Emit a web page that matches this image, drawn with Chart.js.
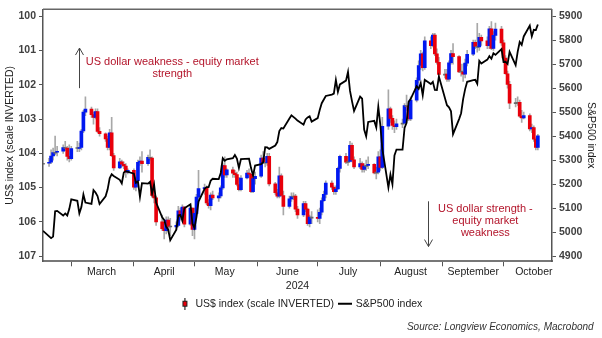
<!DOCTYPE html>
<html>
<head>
<meta charset="utf-8">
<script src="https://cdn.jsdelivr.net/npm/chart.js@4.4.1/dist/chart.umd.min.js"></script>
<style>
  html, body { margin: 0; padding: 0; background: #fff; }
  #wrap { width: 602px; height: 338px; }
</style>
</head>
<body>
<div id="wrap"><canvas id="myChart"></canvas></div>
<script>
// ---- data (one value per weekday, 16 Feb 2024 -> 18 Oct 2024) ----
const dxyOpen = [
  104.30,104.29,104.26,104.08,103.98,103.97,103.94,103.83,103.85,104.09,
  104.16,103.86,103.86,103.83,103.35,102.80,102.71,102.87,102.95,102.78,103.36,103.43,103.58,103.83,103.40,104.07,104.43,104.25,104.32,104.37,104.55,
  104.50,104.99,104.80,104.26,104.23,104.30,104.12,104.14,105.23,105.30,106.00,106.20,106.26,105.95,106.15,106.15,106.10,105.68,105.85,105.57,106.07,105.60,
  106.22,105.75,105.28,105.03,105.00,105.45,105.53,105.22,105.30,105.24,105.01,104.36,104.63,104.48,104.58,104.62,104.91,105.06,104.72,104.58,104.61,105.12,104.74,
  104.67,104.14,104.26,104.27,104.09,104.89,105.15,105.25,104.66,105.23,105.55,105.33,105.26,105.25,105.63,105.80,105.47,105.63,106.05,105.86,
  105.87,105.90,105.72,105.38,105.20,104.87,104.99,105.12,105.04,104.44,104.09,104.26,104.24,103.77,104.19,104.40,104.30,104.47,104.37,104.35,104.32,104.57,104.55,
  104.10,104.41,103.21,102.70,102.98,103.19,103.22,103.14,103.12,102.61,102.63,103.00,102.45,101.87,101.44,101.10,101.50,100.72,100.86,100.55,101.10,101.35,
  101.70,101.69,101.84,101.36,101.09,101.18,101.63,101.63,101.69,101.37,101.11,100.76,100.88,100.90,100.62,100.72,100.86,100.37,100.94,100.56,100.38,
  100.78,101.22,101.68,101.99,102.54,102.52,102.51,102.92,102.97,102.90,103.29,103.25,103.59,103.83
];
const dxyClose = [
  104.29,104.26,104.08,103.98,103.97,103.94,103.83,103.85,104.09,104.16,
  103.86,103.86,103.83,103.35,102.80,102.71,102.87,102.95,102.78,103.36,103.43,103.58,103.83,103.40,104.07,104.43,104.25,104.32,104.37,104.55,104.50,
  104.99,104.80,104.26,104.23,104.30,104.12,104.14,105.23,105.30,106.00,106.20,106.26,105.95,106.15,106.15,106.10,105.68,105.85,105.57,106.07,105.60,106.22,
  105.75,105.28,105.03,105.00,105.45,105.53,105.22,105.30,105.24,105.01,104.36,104.63,104.48,104.58,104.62,104.91,105.06,104.72,104.58,104.61,105.12,104.74,104.67,
  104.14,104.26,104.27,104.09,104.89,105.15,105.25,104.66,105.23,105.55,105.33,105.26,105.25,105.63,105.80,105.47,105.63,106.05,105.86,105.87,
  105.90,105.72,105.38,105.20,104.87,104.99,105.12,105.04,104.44,104.09,104.26,104.24,103.77,104.19,104.40,104.30,104.47,104.37,104.35,104.32,104.57,104.55,104.10,
  104.41,103.21,102.70,102.98,103.19,103.22,103.14,103.12,102.61,102.63,103.00,102.45,101.87,101.44,101.10,101.50,100.72,100.86,100.55,101.10,101.35,101.70,
  101.69,101.84,101.36,101.09,101.18,101.63,101.63,101.69,101.37,101.11,100.76,100.88,100.90,100.62,100.72,100.86,100.37,100.94,100.56,100.38,100.78,
  101.22,101.68,101.99,102.54,102.52,102.51,102.92,102.97,102.90,103.29,103.25,103.59,103.83,103.49
];
const dxyLow = [
  104.05,104.15,103.90,103.85,103.50,103.80,103.75,103.65,103.80,103.75,
  103.80,103.65,103.70,103.30,102.75,102.35,102.65,102.80,102.70,102.70,103.25,103.40,103.50,103.30,102.95,104.00,104.15,104.20,104.25,104.30,104.45,
  104.45,104.70,104.20,104.10,103.95,104.05,103.90,104.10,105.10,105.25,105.80,106.05,105.85,105.85,105.90,106.00,105.55,105.60,105.50,105.55,105.50,105.60,
  105.60,105.20,104.50,104.90,104.95,105.35,105.15,105.10,105.15,104.95,104.30,104.10,104.45,104.40,104.50,104.55,104.70,104.65,104.50,104.45,104.60,104.65,104.55,
  104.05,103.95,104.10,104.00,104.00,104.85,105.05,104.40,104.60,105.10,105.25,105.15,105.15,105.20,105.55,105.40,105.40,105.60,105.80,105.70,
  105.65,105.60,105.30,105.10,104.80,104.80,104.95,104.95,104.40,104.05,104.00,104.10,103.65,103.70,104.10,104.15,104.25,104.30,104.20,104.10,104.30,104.40,103.95,
  103.90,102.95,102.15,102.65,102.90,103.05,103.00,103.00,102.55,102.30,102.55,102.35,101.80,101.30,101.00,101.05,100.60,100.60,100.50,100.50,100.95,101.20,
  101.55,101.55,101.30,101.00,100.80,101.15,101.40,101.40,101.25,101.00,100.70,100.70,100.21,100.50,100.55,100.60,100.30,100.16,100.45,100.20,100.30,
  100.70,101.15,101.60,101.90,102.40,102.35,102.45,102.75,102.80,102.85,103.15,103.20,103.55,103.45
];
const dxyHigh = [
  104.55,104.38,104.30,104.20,104.05,104.08,104.00,103.92,104.20,104.25,
  104.20,103.95,103.95,103.90,103.40,102.90,102.95,103.15,103.00,103.40,103.50,103.65,103.90,103.90,104.10,104.50,104.45,104.40,104.45,104.70,104.60,
  105.05,105.10,104.85,104.35,104.55,104.35,104.20,105.25,105.45,106.10,106.25,106.50,106.35,106.30,106.40,106.25,106.15,105.95,106.00,106.15,106.10,106.40,
  106.50,105.80,105.35,105.20,105.50,105.60,105.65,105.35,105.40,105.30,105.05,104.70,104.70,104.70,104.70,104.95,105.10,105.10,104.75,104.70,105.15,105.15,104.90,
  104.70,104.30,104.40,104.35,104.95,105.20,105.30,105.30,105.25,105.80,105.60,105.40,105.35,105.70,105.90,105.85,105.70,106.10,106.15,106.05,
  106.00,106.05,105.80,105.40,105.30,105.05,105.20,105.20,105.05,104.55,104.30,104.35,104.25,104.25,104.45,104.45,104.55,104.55,104.50,104.45,104.60,104.75,104.60,
  104.50,104.45,103.30,103.10,103.30,103.40,103.30,103.25,103.15,102.75,103.05,103.05,102.50,101.95,101.55,101.60,101.55,100.95,100.90,101.15,101.40,101.80,
  101.80,101.90,101.90,101.40,101.40,101.65,101.75,101.90,101.80,101.45,101.15,100.95,101.05,101.00,100.85,100.95,100.95,100.98,101.00,100.70,100.85,
  101.25,101.70,102.10,102.70,102.65,102.60,102.95,103.10,103.00,103.35,103.40,103.65,103.90,103.90
];
// S&P 500 close (null = US market holiday)
const spx = [
  5005.57,null,4975.51,4981.80,5087.03,5088.80,5069.53,5078.18,5069.76,5096.27,
  5137.08,5130.95,5078.65,5104.76,5157.36,5123.69,5117.94,5175.27,5165.31,5150.48,5117.09,5149.42,5178.51,5224.62,5241.53,5234.18,5218.19,5203.58,5248.49,5254.35,null,
  5243.77,5205.81,5211.49,5147.21,5204.34,5202.39,5209.91,5160.64,5199.06,5123.41,5061.82,5051.41,5022.21,5011.12,4967.23,5010.60,5070.55,5071.63,5048.42,5099.96,5116.17,5035.69,
  5018.39,5064.20,5127.79,5180.74,5187.70,5187.67,5214.08,5222.68,5221.42,5246.68,5308.15,5297.10,5303.27,5308.13,5321.41,5307.01,5267.84,5304.72,null,5306.04,5266.95,5235.48,5277.51,
  5283.40,5291.34,5354.03,5352.96,5346.99,5360.79,5375.32,5421.03,5433.74,5431.60,5473.23,5487.03,null,5473.17,5464.62,5447.87,5469.30,5477.90,5482.87,5460.48,
  5475.09,5509.01,5537.02,null,5567.19,5572.85,5576.98,5633.91,5584.54,5615.35,5631.22,5667.20,5588.27,5544.59,5505.00,5564.41,5555.74,5427.13,5399.22,5459.10,5463.54,5436.44,5522.30,
  5446.68,5346.56,5186.33,5240.03,5199.50,5319.31,5344.16,5344.39,5434.43,5455.21,5543.22,5554.25,5608.25,5597.12,5620.85,5570.64,5634.61,5616.84,5625.80,5592.18,5591.96,5648.40,
  null,5528.93,5520.07,5503.41,5408.42,5471.05,5495.52,5554.13,5595.76,5626.02,5633.09,5634.58,5618.26,5713.64,5702.55,5718.57,5732.93,5722.26,5745.37,5738.17,5762.48,
  5708.75,5709.54,5699.94,5751.07,5695.94,5751.13,5792.04,5780.05,5815.03,5859.85,5815.26,5842.47,5841.47,5864.67
];

const monthNames = ["March", "April", "May", "June", "July", "August", "September", "October"];
const dxyTicks = [100, 101, 102, 103, 104, 105, 106, 107];
const spxTicks = [4900, 5000, 5100, 5200, 5300, 5400, 5500, 5600, 5700, 5800, 5900];

// day-of-year helper, 1 Jan 2024 = 1
function doy(m, d) {
  return (Date.UTC(2024, m, d) - Date.UTC(2024, 0, 1)) / 864e5 + 1;
}

// weekdays from 16 Feb to 18 Oct
const days = [];
for (let t = Date.UTC(2024, 1, 16); t <= Date.UTC(2024, 9, 18); t += 864e5) {
  const wd = new Date(t).getUTCDay();
  if (wd !== 0 && wd !== 6) days.push((t - Date.UTC(2024, 0, 1)) / 864e5 + 1);
}

const monthStarts = monthNames.map((n, i) => doy(i + 2, 1));
const monthMids = monthNames.map((n, i) => doy(i + 2, 16));

const RED = "#e8000b";
const BLUE = "#0018f0";

const bodyColors = dxyOpen.map((o, i) => {
  const c = dxyClose[i];
  if (Math.abs(c - o) < 0.025) return "#6a6a6a";
  return c > o ? RED : BLUE;
});

// legend icons
function candleIcon() {
  const c = document.createElement("canvas");
  c.width = 7; c.height = 12;
  const g = c.getContext("2d");
  g.fillStyle = "#000";
  g.fillRect(3, 0, 1, 12);
  g.fillStyle = RED;
  g.fillRect(1, 3, 5, 6);
  g.strokeStyle = "#222";
  g.lineWidth = 1;
  g.strokeRect(1.5, 3.5, 4, 5);
  return c;
}
function lineIcon() {
  const c = document.createElement("canvas");
  c.width = 14; c.height = 12;
  const g = c.getContext("2d");
  g.fillStyle = "#000";
  g.fillRect(0, 5, 14, 2);
  return c;
}

// text + arrows on the plot, in data units
const notes = [
  { x: 111, y: 101.33, lines: ["US dollar weakness - equity market", "strength"] },
  { x: 266, y: 105.62, lines: ["US dollar strength -", "equity market", "weakness"] }
];
const arrows = [
  { x: 65, from: 102.1, to: 100.93 },
  { x: 237.8, from: 105.4, to: 106.72 }
];

const notesPlugin = {
  id: "notes",
  afterDatasetsDraw(chart) {
    const { ctx, chartArea } = chart;
    const xs = chart.scales.x, ys = chart.scales.y;
    ctx.save();
    // top frame line
    ctx.strokeStyle = "#666";
    ctx.lineWidth = 1.5;
    ctx.beginPath();
    ctx.moveTo(chartArea.left, chartArea.top);
    ctx.lineTo(chartArea.right, chartArea.top);
    ctx.stroke();

    ctx.fillStyle = "#b3142a";
    ctx.font = "11px 'Liberation Sans', Arial, sans-serif";
    ctx.textAlign = "center";
    ctx.textBaseline = "middle";
    notes.forEach(n => {
      const px = xs.getPixelForValue(n.x);
      const py = ys.getPixelForValue(n.y);
      n.lines.forEach((l, i) => ctx.fillText(l, px, py + i * 12));
    });

    ctx.strokeStyle = "#444";
    ctx.lineWidth = 1;
    arrows.forEach(a => {
      const px = Math.round(xs.getPixelForValue(a.x)) + 0.5;
      const y0 = ys.getPixelForValue(a.from);
      const y1 = ys.getPixelForValue(a.to);
      const dir = y1 < y0 ? 1 : -1;
      ctx.beginPath();
      ctx.moveTo(px, y0);
      ctx.lineTo(px, y1);
      ctx.moveTo(px - 4, y1 + dir * 7);
      ctx.lineTo(px, y1);
      ctx.lineTo(px + 4, y1 + dir * 7);
      ctx.stroke();
    });
    ctx.restore();
  }
};

const tickFont = { family: "'Liberation Sans', Arial, sans-serif", size: 10.5, weight: "bold" };
const textFont = { family: "'Liberation Sans', Arial, sans-serif", size: 10.5 };

const ctx = document.getElementById("myChart").getContext("2d");

const chart = new Chart(ctx, {
  type: "bar",
  data: {
    datasets: [
      {
        type: "line",
        label: "S&P500 index",
        data: days.map((d, i) => ({ x: d, y: spx[i] })),
        xAxisID: "x",
        yAxisID: "y1",
        borderColor: "#000",
        borderWidth: 1.8,
        pointRadius: 0,
        tension: 0,
        spanGaps: true,
        pointStyle: lineIcon(),
        order: 0
      },
      {
        label: "US$ index (scale INVERTED)",
        data: days.map((d, i) => ({ x: d, y: [dxyOpen[i], dxyClose[i]] })),
        xAxisID: "x",
        yAxisID: "y",
        backgroundColor: bodyColors,
        barThickness: 3,
        minBarLength: 1,
        grouped: false,
        pointStyle: candleIcon(),
        order: 1
      },
      {
        label: "wicks",
        data: days.map((d, i) => ({ x: d, y: [dxyLow[i], dxyHigh[i]] })),
        xAxisID: "x",
        yAxisID: "y",
        backgroundColor: "#a8a8a8",
        barThickness: 1,
        grouped: false,
        order: 2
      }
    ]
  },
  options: {
    responsive: true,
    maintainAspectRatio: false,
    animation: false,
    layout: { padding: { top: 6, left: 0, right: 0, bottom: 1 } },
    scales: {
      x: {
        type: "linear",
        min: 47,
        max: 299,
        offset: false,
        afterBuildTicks: s => {
          s.ticks = monthStarts.concat(monthMids).sort((a, b) => a - b).map(v => ({ value: v }));
        },
        ticks: {
          autoSkip: false,
          maxRotation: 0,
          padding: 0,
          color: "#222",
          font: textFont,
          callback: v => {
            const i = monthMids.indexOf(v);
            return i >= 0 ? monthNames[i] : "";
          }
        },
        grid: {
          offset: false,
          drawOnChartArea: false,
          tickLength: 5,
          tickColor: c => (c.tick && monthStarts.includes(c.tick.value) ? "#555" : "rgba(0,0,0,0)")
        },
        border: { color: "#777", width: 2 },
        title: { display: true, text: "2024", color: "#222", font: textFont, padding: { top: 1, bottom: 0 } }
      },
      y: {
        position: "left",
        reverse: true,
        min: 99.8,
        max: 107.15,
        beginAtZero: false,
        afterBuildTicks: s => { s.ticks = dxyTicks.map(v => ({ value: v })); },
        afterFit: s => { s.width = 43; },
        ticks: { color: "#404040", font: tickFont, padding: 3 },
        grid: { drawOnChartArea: false, tickLength: 4, tickColor: "#555" },
        border: { color: "#555", width: 1.5 },
        title: { display: true, text: "US$ index (scale INVERTED)", color: "#222", font: textFont, padding: { top: 4, bottom: 0 } }
      },
      y1: {
        position: "right",
        min: 4879,
        max: 5928,
        afterBuildTicks: s => { s.ticks = spxTicks.map(v => ({ value: v })); },
        afterFit: s => { s.width = 50; },
        ticks: { color: "#404040", font: tickFont, padding: 3, callback: v => String(v) },
        grid: { drawOnChartArea: false, tickLength: 4, tickColor: "#555" },
        border: { color: "#555", width: 1.5 },
        title: { display: true, text: "S&P500 index", color: "#222", font: textFont, padding: { top: 5, bottom: 0 } }
      }
    },
    plugins: {
      legend: {
        position: "bottom",
        labels: {
          usePointStyle: true,
          color: "#222",
          font: textFont,
          padding: 6,
          filter: item => item.text !== "wicks",
          sort: (a, b) => b.datasetIndex - a.datasetIndex
        }
      },
      subtitle: {
        display: true,
        position: "bottom",
        align: "end",
        text: "Source: Longview Economics, Macrobond\u00a0\u00a0\u00a0",
        color: "#333",
        font: { family: "'Liberation Sans', Arial, sans-serif", size: 10, style: "italic" },
        padding: { top: 2, bottom: 4 }
      },
      tooltip: { enabled: false }
    }
  },
  plugins: [notesPlugin]
});
</script>
</body>
</html>
